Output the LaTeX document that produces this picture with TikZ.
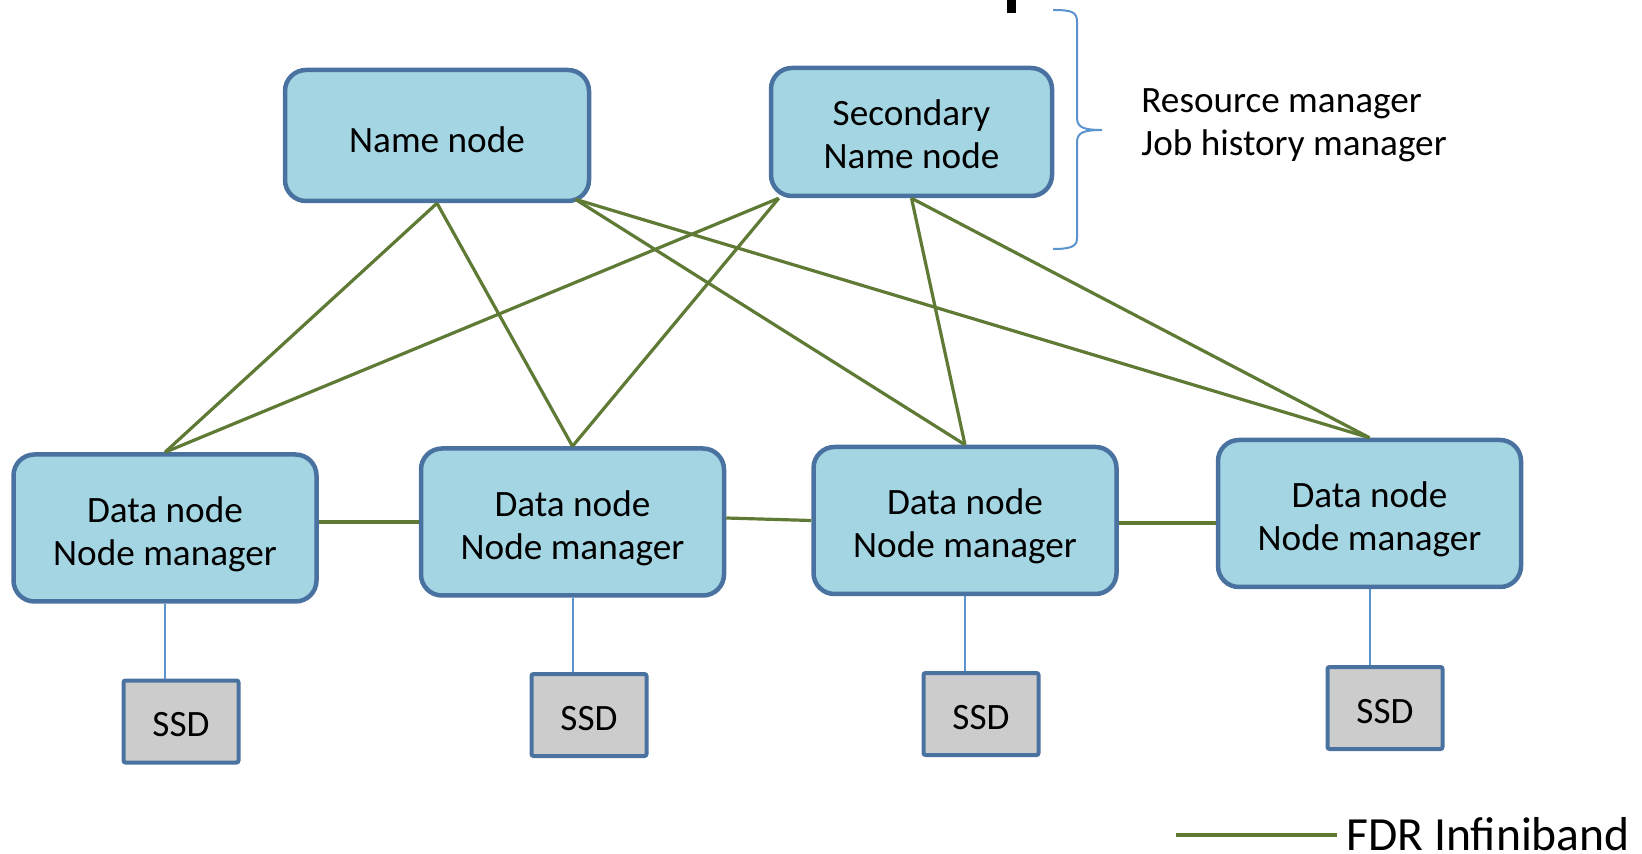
\documentclass[tikz,border=0pt]{standalone}
\usepackage{fontspec}
\setmainfont{Carlito}
\usetikzlibrary{calc}

\definecolor{boxfill}{HTML}{A4D5E3}
\definecolor{boxedge}{HTML}{4A72A0}
\definecolor{linkgreen}{HTML}{5F7A35}
\definecolor{ssdfill}{HTML}{CCCCCC}
\definecolor{thinblue}{HTML}{5B93CF}

\begin{document}
\begin{tikzpicture}[x=0.5pt,y=-0.5pt,
  hub/.style={draw=boxedge, fill=boxfill, line width=2.25pt,
    rounded corners=10.5pt, inner sep=0pt},
  ssdbox/.style={draw=boxedge, fill=ssdfill, line width=2pt,
    rounded corners=1pt, inner sep=0pt,
    minimum width=57.5pt, minimum height=41pt},
  txt/.style={align=center, inner sep=0pt, text=black,
    font=\fontsize{18.6}{21.5}\selectfont},
  fdr/.style={draw=linkgreen, line width=1.6pt},
  tap/.style={draw=thinblue, line width=1pt},
  datanode/.style={hub, minimum width=151.5pt, minimum height=73.5pt}]

\useasboundingbox (0,0) rectangle (1642,854);

% descender of a heading cut off at the top edge
\fill[black] (1007,0) rectangle (1016,13);

% master nodes
\node[hub, minimum width=152pt, minimum height=65.5pt] (nn) at (437,135.5) {};
\node[txt] (nnt) at ($(nn)+(0,4)$) {Name node};
\node[hub, minimum width=140.5pt, minimum height=64pt] (sn) at (911.5,132) {};
\node[txt] (snt) at ($(sn)+(0,2)$) {Secondary\\Name node};

% brace and the services it groups
\draw[thinblue, line width=1pt]
  (1053,10) .. controls (1072,10) and (1077,12) .. (1077,22)
  -- (1077,118) .. controls (1077,128) and (1085,130) .. (1102,130)
  .. controls (1085,130) and (1077,132) .. (1077,142)
  -- (1077,238) .. controls (1077,246) and (1072,249) .. (1053,249);
\node[txt, align=left, anchor=north west] (svc) at (1141,88)
  {Resource manager\\Job history manager};

% worker nodes
\node[datanode] (dn1) at (165,528) {};
\node[datanode] (dn2) at (572.5,522) {};
\node[datanode] (dn3) at (965,520.5) {};
\node[datanode] (dn4) at (1369.5,513.5) {};
\foreach \d in {dn1,dn2,dn3,dn4}
  \node[txt] (\d t) at ($(\d)+(0,6)$) {Data node\\Node manager};

% local disks
\node[ssdbox] (ssd1) at (181,721.5) {};
\node[ssdbox] (ssd2) at (589,715) {};
\node[ssdbox] (ssd3) at (981,714) {};
\node[ssdbox] (ssd4) at (1385,708) {};
\foreach \s in {ssd1,ssd2,ssd3,ssd4}
  \node[txt] (\s t) at ($(\s)+(0,3.5)$) {SSD};

\foreach \d/\s in {dn1/ssd1,dn2/ssd2,dn3/ssd3,dn4/ssd4}
  \draw[tap] (\d.south) -- (\d.south |- \s.north);

% InfiniBand links
\coordinate (nnc) at ([xshift=-8pt,yshift=2pt]nn.south east);
\coordinate (snc) at ([xshift=5pt]sn.south west);
\draw[fdr] (nn.south) -- (dn1.north);
\draw[fdr] (nn.south) -- (dn2.north);
\draw[fdr] (nnc) -- (dn3.north);
\draw[fdr] (nnc) -- (dn4.north);
\draw[fdr] (snc) -- (dn1.north);
\draw[fdr] (snc) -- (dn2.north);
\draw[fdr] (sn.south) -- (dn3.north);
\draw[fdr] (sn.south) -- (dn4.north);

\draw[fdr] (dn1.east |- dn2.west) -- (dn2.west);
\draw[fdr] ([yshift=2pt]dn2.east) -- (dn3.west);
\coordinate (h3) at ([yshift=-1.25pt]dn3.east);
\draw[fdr] (h3) -- (h3 -| dn4.west);

% legend
\node[inner sep=0pt, anchor=west, font=\fontsize{23.8}{28}\selectfont]
  (lgt) at (1346,834.5) {FDR Infiniband};
\coordinate (lg0) at (1176,835);
\coordinate (lg1) at (1337,835);
\draw[fdr] (lg0) -- (lg1);
\end{tikzpicture}
\end{document}
